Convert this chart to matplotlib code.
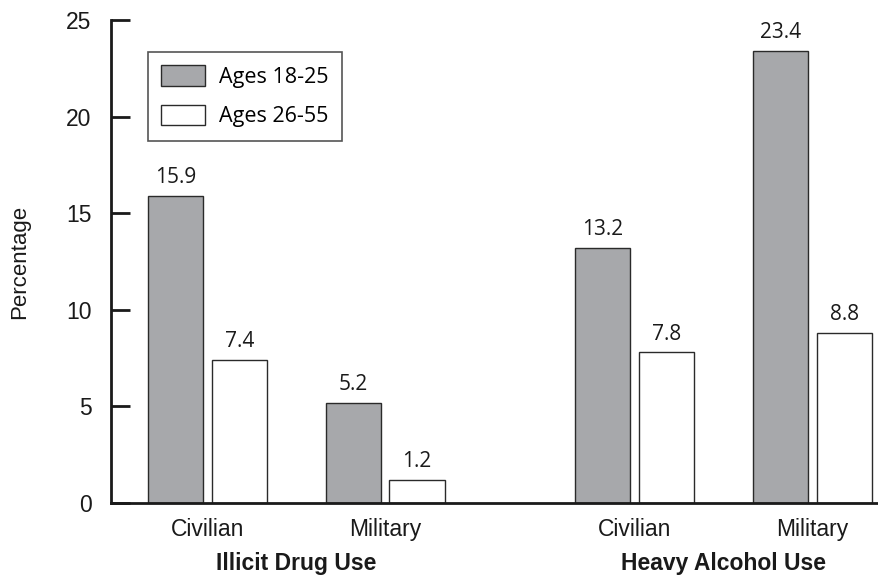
import matplotlib
matplotlib.use("Agg")
import matplotlib.pyplot as plt
from matplotlib.patches import Patch

# Survey results (percent)
groups = ["Illicit Drug Use", "Heavy Alcohol Use"]
populations = ["Civilian", "Military"]
series_names = ["Ages 18-25", "Ages 26-55"]
ages_18_25 = [15.9, 5.2, 13.2, 23.4]   # Civ/Mil drug, Civ/Mil alcohol
ages_26_55 = [7.4, 1.2, 7.8, 8.8]
y_ticks = [0, 5, 10, 15, 20, 25]

GRAY = "#a7a8ab"
EDGE = "#2a2a2a"
SANS = ["Liberation Sans", "DejaVu Sans"]
LABEL_FONT = ["Open Sans", "DejaVu Sans"]

fig = plt.figure(figsize=(8.79, 5.76), dpi=100)
W, H = 879, 576
ax = fig.add_axes([111 / W, (H - 503) / H, (879 - 111) / W, (503 - 20) / H])

# category centres: two pairs separated by a wider gap
centers = [0.0, 1.0, 2.406, 3.408]
offset = 0.180
width = 0.31

for vals, dx, color in ((ages_18_25, -offset, GRAY), (ages_26_55, offset, "white")):
    xs = [c + dx for c in centers]
    bars = ax.bar(xs, vals, width=width, color=color, edgecolor=EDGE,
                  linewidth=1.0, zorder=2)
    for b, v in zip(bars, vals):
        ax.annotate(f"{v:.1f}", (b.get_x() + b.get_width() / 2, v),
                    xytext=(0, 5.5), textcoords="offset points",
                    ha="center", va="bottom", fontsize=15,
                    family=LABEL_FONT, color="#1a1a1a")

ax.set_xlim(-0.544, 3.783)
ax.set_ylim(0, 25)

for side in ("top", "right"):
    ax.spines[side].set_visible(False)
for side in ("left", "bottom"):
    ax.spines[side].set_linewidth(2.0)
    ax.spines[side].set_color("#1a1a1a")

ax.set_yticks(y_ticks)
ax.set_yticklabels([str(t) for t in y_ticks], family=SANS, fontsize=16.5)
ax.tick_params(axis="y", direction="in", length=14, width=2.0,
               pad=14, colors="#1a1a1a")

ax.set_xticks(centers)
ax.set_xticklabels(populations * 2, family=SANS, fontsize=16.5)
ax.tick_params(axis="x", length=0, pad=11, colors="#1a1a1a")

ax.set_ylabel("Percentage", family=SANS, fontsize=16, labelpad=26,
              color="#1a1a1a")

# group captions under the population labels
for i, g in enumerate(groups):
    mid = (centers[2 * i] + centers[2 * i + 1]) / 2
    ax.annotate(g, (mid, 0), xycoords=("data", "axes fraction"),
                xytext=(0, -43.5), textcoords="offset points",
                ha="center", va="center", fontsize=16.5, weight="bold",
                family=SANS, color="#1a1a1a")

handles = [Patch(facecolor=GRAY, edgecolor=EDGE, linewidth=1.0),
           Patch(facecolor="white", edgecolor=EDGE, linewidth=1.0)]
leg = ax.legend(handles, series_names, loc="upper left",
                bbox_to_anchor=((148 - 111) / 768, (503 - 52) / 483),
                prop={"family": LABEL_FONT, "size": 15.5},
                frameon=True, fancybox=False, edgecolor=EDGE,
                handlelength=2.05, handleheight=1.1, handletextpad=0.65,
                labelspacing=0.78, borderpad=0.62, borderaxespad=0)
leg.get_frame().set_linewidth(1.2)

fig.savefig("out.png", dpi=100)
